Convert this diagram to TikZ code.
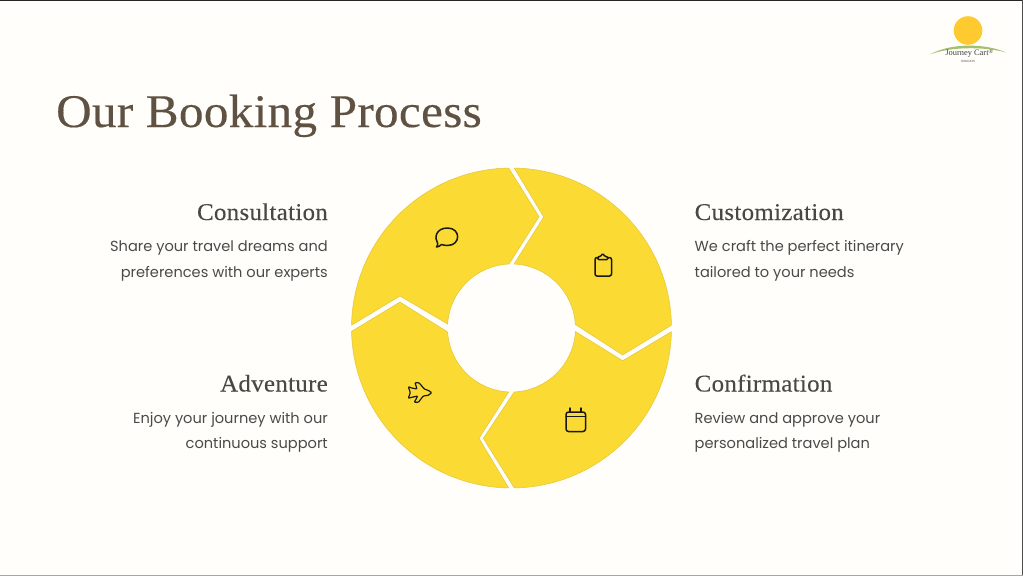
\documentclass[tikz,border=0pt]{standalone}
\usepackage{fontspec}
\setmainfont{Liberation Serif}
\newfontfamily\bodyfont[Ligatures=NoCommon]{Poppins}
\newfontfamily\headfont[LetterSpace=1.2,FakeStretch=1.04,FakeBold=0.2]{Liberation Serif}
\newfontfamily\titlefont[LetterSpace=0.7,FakeStretch=1.05,FakeBold=0.3]{Liberation Serif}
\definecolor{bgc}{HTML}{FFFEFA}
\definecolor{segc}{HTML}{FBDA33}
\definecolor{sege}{HTML}{E3C63A}
\definecolor{titlec}{HTML}{5F5242}
\definecolor{headc}{HTML}{4A4844}
\definecolor{bodyc}{HTML}{4A4A48}
\definecolor{sunc}{HTML}{FFC930}
\definecolor{hillc}{HTML}{A3C070}
\tikzset{
  seg/.style={fill=segc,draw=sege,line width=0.5pt,line join=miter},
  icon/.style={draw=black!90,line width=1.5pt,line join=round,line cap=round},
  headtxt/.style={font=\headfont\fontsize{24}{26}\selectfont,text=headc,inner sep=0pt},
  bodytxt/.style={font=\bodyfont\fontsize{14.6}{25.6}\selectfont,text=bodyc,inner sep=0pt,text depth=0pt},
  lefttxt/.style={anchor=base east},
  righttxt/.style={anchor=base west}
}
\begin{document}
\begin{tikzpicture}[x=1pt,y=-1pt]
\useasboundingbox (0,0) rectangle (1023,576);
\fill[bgc] (0,0) rectangle (1023,576);
\draw[black!85,line width=1pt] (0,0.5) -- (1023,0.5);
\draw[black!70,line width=1pt] (1022.5,0) -- (1022.5,576);
\draw[black!35,line width=1pt] (0,575.5) -- (1023,575.5);
% logo
\fill[sunc] (968,30.5) circle[radius=14.3];
\fill[hillc] (930,54.5) .. controls (950,43) and (985,43) .. (1006,52.5) .. controls (985,46.5) and (950,46.5) .. (930,54.5) -- cycle;
\node[font=\fontsize{8.4}{9}\selectfont,text=black!75,inner sep=0pt] (logoname) at (969.5,53.5) {Journey Cart\textsuperscript{\textregistered}};
\node[font=\bodyfont\fontsize{3}{4}\selectfont,text=black!70,inner sep=0pt] (logosub) at (968,61) {HOLIDAYS};
% title
\node[font=\titlefont\fontsize{46.8}{50}\selectfont,text=titlec,anchor=base west,inner sep=0pt] (title) at (56,127) {Our Booking Process};
% ring
\begin{scope}[shift={(511.5,328)},x=1pt,y=1pt]
\draw[seg] (179:160) arc[start angle=179,end angle=91,radius=160]
  -- (27.5,111.3) -- (92.2:64) arc[start angle=92.2,end angle=176.4,radius=64]
  -- (-111.5,32) -- cycle;
\draw[seg] (89:160) arc[start angle=89,end angle=1,radius=160]
  -- (111.2,-27) -- (3.2:63.9) arc[start angle=3.2,end angle=87.6,radius=64]
  -- (32.2,111) -- cycle;
\draw[seg] (-1.3:160) arc[start angle=-1.3,end angle=-89,radius=160]
  -- (-28.2,-110.3) -- (-87.6:64) arc[start angle=-87.6,end angle=-3.2,radius=64]
  -- (111.2,-32.7) -- cycle;
\draw[seg] (-91:160) arc[start angle=-91,end angle=-178.8,radius=160]
  -- (-111.5,26) -- (-176.4:64) arc[start angle=-176.4,end angle=-92.5,radius=64]
  -- (-32.5,-110.3) -- cycle;
\end{scope}
% icons
\draw[icon] (436.5,247) .. controls (438,244.5) and (438,244) .. (437.5,243)
  .. controls (434,238) and (436,228) .. (447.5,228)
  .. controls (461,228) and (461,245.5) .. (447.5,245.5)
  .. controls (445,245.5) and (443,245) .. (441.5,244.5)
  .. controls (440,246) and (438.5,247) .. (436.5,247) -- cycle;
\draw[icon,rounded corners=2pt] (597.5,257.5) -- (595,257.5) -- (595,276) -- (611.5,276) -- (611.5,257.5) -- (608,257.5);
\draw[icon,rounded corners=1.2pt] (597.5,259.5) -- (597.5,257) -- (600.5,256.5) -- (602.7,253.5) -- (605,256.5) -- (608,257) -- (608,259.5) -- cycle;
\draw[icon,rounded corners=2.5pt] (566,412) rectangle (585.5,431.5);
\draw[icon] (566,416.5) -- (585.5,416.5) (570,408) -- (570,412) (581,408) -- (581,412);
\draw[icon,line width=1.2pt,rounded corners=0.8pt] (431.7,392.7) -- (428.5,390.5) -- (424.3,389) -- (419,382.7) -- (415,382.7) -- (417,389) -- (411.7,388) -- (408.3,386.7) -- (410.3,392.7) -- (408.3,398.3) -- (411.7,397.3) -- (417.7,396) -- (414.3,402.3) -- (418.3,402.3) -- (423.3,396) -- (428.3,395.3) -- cycle;
% texts
\node[headtxt,lefttxt] (t1) at (328,220) {Consultation};
\node[bodytxt,lefttxt] (b1a) at (328,251) {Share your travel dreams and};
\node[bodytxt,lefttxt] (b1b) at (328,277) {preferences with our experts};
\node[headtxt,righttxt] (t2) at (694.5,220) {Customization};
\node[bodytxt,righttxt] (b2a) at (694.5,251) {We craft the perfect itinerary};
\node[bodytxt,righttxt] (b2b) at (694.5,277) {tailored to your needs};
\node[headtxt,lefttxt] (t3) at (328,391.5) {Adventure};
\node[bodytxt,lefttxt] (b3a) at (328,423) {Enjoy your journey with our};
\node[bodytxt,lefttxt] (b3b) at (328,448.5) {continuous support};
\node[headtxt,righttxt] (t4) at (694.5,391.5) {Confirmation};
\node[bodytxt,righttxt] (b4a) at (694.5,423) {Review and approve your};
\node[bodytxt,righttxt] (b4b) at (694.5,448.5) {personalized travel plan};
\end{tikzpicture}
\end{document}
